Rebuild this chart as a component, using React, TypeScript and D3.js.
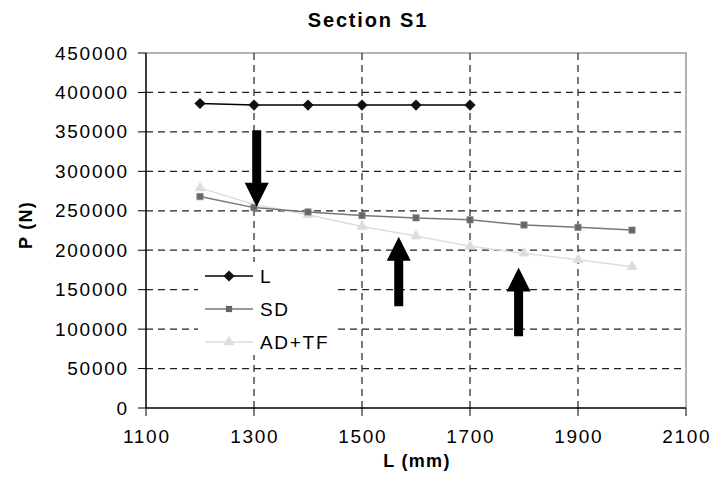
import React from "react";
import * as d3 from "d3";

const lengths = [1200, 1300, 1400, 1500, 1600, 1700, 1800, 1900, 2000];
const seriesL = [386000, 384000, 384000, 384000, 384000, 384000];
const seriesSD = [268000, 254000, 248500, 244000, 241000, 238500, 232000, 229000, 225500];
const seriesADTF = [279000, 258000, 245000, 230000, 218000, 205000, 196000, 188000, 179000];
const xTicks = [1100, 1300, 1500, 1700, 1900, 2100];
const yTicks = [0, 50000, 100000, 150000, 200000, 250000, 300000, 350000, 400000, 450000];
// arrows: [x, from, to] in data units
const arrows = [
  [1305, 352000, 255000],
  [1568, 129000, 217000],
  [1790, 91000, 178000],
];

const W = 713, H = 478;
const m = { left: 146, right: 686, top: 53, bottom: 408 };
const font = "Liberation Sans, Arial, sans-serif";
const ls = 1.7;

export default function App() {
  const x = d3.scaleLinear().domain([1100, 2100]).range([m.left, m.right]);
  const y = d3.scaleLinear().domain([0, 450000]).range([m.bottom, m.top]);

  const mk = (vals: number[]) => vals.map((v, i) => [lengths[i], v] as [number, number]);
  const line = d3.line<[number, number]>().x(d => x(d[0])).y(d => y(d[1]));

  const diamond = d3.symbol().type(d3.symbolDiamond2).size(80)()!;
  const square = d3.symbol().type(d3.symbolSquare2).size(50)()!;
  const tri = d3.symbol().type(d3.symbolTriangle2).size(90)()!;

  const series = [
    { name: "L", data: mk(seriesL), color: "#000", width: 1.5, sym: diamond, fill: "#111" },
    { name: "SD", data: mk(seriesSD), color: "#777", width: 1.5, sym: square, fill: "#666" },
    { name: "AD+TF", data: mk(seriesADTF), color: "#ddd", width: 1.5, sym: tri, fill: "#ddd" },
  ];

  const arrowPath = (a: number[]) => {
    const cx = x(a[0]);
    const y0 = y(a[1]);
    const y1 = y(a[2]);
    const dir = y1 > y0 ? 1 : -1;
    const head = 24;
    const hb = y1 - dir * head;
    return `M${cx - 4.5},${y0}L${cx + 4.5},${y0}L${cx + 4.5},${hb}L${cx + 12},${hb}L${cx},${y1}L${cx - 12},${hb}L${cx - 4.5},${hb}Z`;
  };

  return (
    <svg width={W} height={H} style={{ position: "absolute", left: 0, top: 0, background: "#fff" }} fontFamily={font}>
      <text x={368} y={27} textAnchor="middle" fontSize={20} fontWeight="bold" letterSpacing={1.8}>Section S1</text>
      {/* plot border */}
      <path d={`M${m.left},${m.top}H${m.right}V${m.bottom}`} fill="none" stroke="#999" strokeWidth={1.5} />
      {/* grid */}
      {yTicks.slice(1, -1).map(t => (
        <line key={"gy" + t} x1={m.left} x2={m.right} y1={y(t)} y2={y(t)} stroke="#222" strokeDasharray="7,5" strokeWidth={1.2} />
      ))}
      {xTicks.slice(1, -1).map(t => (
        <line key={"gx" + t} x1={x(t)} x2={x(t)} y1={m.top} y2={m.bottom} stroke="#222" strokeDasharray="7,5" strokeWidth={1.2} />
      ))}
      {/* axes */}
      <line x1={m.left} x2={m.left} y1={m.top} y2={m.bottom} stroke="#000" strokeWidth={1.5} />
      <line x1={m.left} x2={m.right} y1={m.bottom} y2={m.bottom} stroke="#000" strokeWidth={1.5} />
      {yTicks.map(t => (
        <g key={"ty" + t}>
          <line x1={m.left - 8} x2={m.left} y1={y(t)} y2={y(t)} stroke="#000" />
          <text x={127 + ls} y={y(t) + 6.5} textAnchor="end" fontSize={19} letterSpacing={ls}>{t}</text>
        </g>
      ))}
      {xTicks.map(t => (
        <g key={"tx" + t}>
          <line x1={x(t)} x2={x(t)} y1={m.bottom} y2={m.bottom + 8} stroke="#000" />
          <text x={x(t) + ls / 2} y={443} textAnchor="middle" fontSize={19} letterSpacing={ls}>{t}</text>
        </g>
      ))}
      <text x={417} y={467} textAnchor="middle" fontSize={18} fontWeight="bold" letterSpacing={1.3}>L (mm)</text>
      <text transform={`translate(32,225) rotate(-90)`} textAnchor="middle" fontSize={18} fontWeight="bold" letterSpacing={1.3}>P (N)</text>
      {/* series, drawn bottom to top */}
      {series.slice().reverse().map(s => (
        <g key={s.name}>
          <path d={line(s.data)!} fill="none" stroke={s.color} strokeWidth={s.width} />
          {s.data.map((d, i) => (
            <path key={i} d={s.sym} transform={`translate(${x(d[0])},${y(d[1])})`} fill={s.fill} stroke={s.name === "SD" ? "#888" : "none"} strokeWidth={0.8} />
          ))}
        </g>
      ))}
      {/* legend */}
      <rect x={198} y={262} width={140} height={93} fill="#fff" />
      {series.map((s, i) => (
        <g key={"lg" + s.name} transform={`translate(205,${276 + i * 33})`}>
          <line x1={0} x2={48} y1={0} y2={0} stroke={s.color} strokeWidth={s.width} />
          <path d={s.sym} transform="translate(24,0)" fill={s.fill} />
          <text x={55} y={7} fontSize={19} letterSpacing={ls}>{s.name}</text>
        </g>
      ))}
      {/* arrows */}
      {arrows.map((a, i) => (
        <path key={"ar" + i} d={arrowPath(a)} fill="#000" />
      ))}
    </svg>
  );
}
